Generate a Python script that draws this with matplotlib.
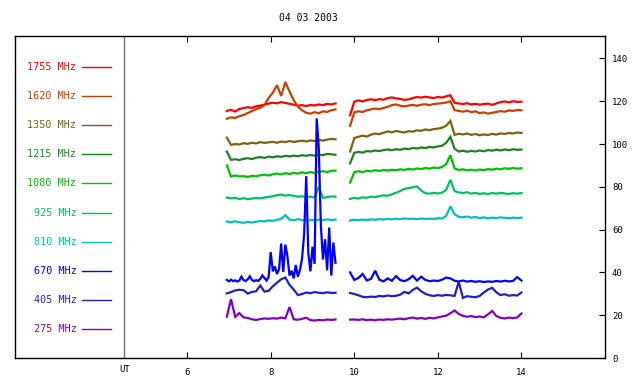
import numpy as np
import matplotlib
matplotlib.use("Agg")
import matplotlib.pyplot as plt

title = "04 03 2003"
freqs = ["1755 MHz", "1620 MHz", "1350 MHz", "1215 MHz", "1080 MHz",
         "925 MHz", "810 MHz", "670 MHz", "405 MHz", "275 MHz"]
colors = ["#ff0000", "#c84000", "#806010", "#208020", "#00c000",
          "#00c060", "#00c0c0", "#0000ff", "#2020c0", "#8000c0"]

# time grids (UT hours)
t1 = [6.95, 7.05, 7.15, 7.25, 7.35, 7.45, 7.55, 7.65, 7.75, 7.85, 7.95, 8.05, 8.15, 8.25,
      8.35, 8.45, 8.55, 8.65, 8.75, 8.85, 8.95, 9.05, 9.15, 9.25, 9.35, 9.45, 9.55]
t1f = [6.95, 7.00, 7.05, 7.10, 7.15, 7.20, 7.25, 7.30, 7.35, 7.40, 7.45, 7.50, 7.55, 7.60,
       7.65, 7.70, 7.75, 7.80, 7.85, 7.90, 7.95, 8.00, 8.05, 8.10, 8.15, 8.20, 8.25, 8.30,
       8.35, 8.40, 8.45, 8.50, 8.55, 8.60, 8.65, 8.70, 8.75, 8.80, 8.85, 8.90, 8.95, 9.00,
       9.05, 9.10, 9.15, 9.20, 9.25, 9.30, 9.35, 9.40, 9.45, 9.50, 9.55]
t2 = [9.9, 10.0, 10.1, 10.2, 10.3, 10.4, 10.5, 10.6, 10.7, 10.8, 10.9, 11.0, 11.1, 11.2,
      11.3, 11.4, 11.5, 11.6, 11.7, 11.8, 11.9, 12.0, 12.1, 12.2, 12.3, 12.4, 12.5, 12.6,
      12.7, 12.8, 12.9, 13.0, 13.1, 13.2, 13.3, 13.4, 13.5, 13.6, 13.7, 13.8, 13.9, 14.0]

f1755_a = [115.5, 116.0, 115.2, 116.4, 116.8, 117.2, 116.9, 117.6, 118.0, 118.4, 118.9, 119.3, 119.0, 119.6,
           119.2, 118.8, 118.4, 117.9, 118.2, 117.7, 118.3, 118.0, 118.5, 118.2, 118.8, 118.5, 119.0]
f1755_b = [113.5, 119.8, 120.4, 119.9, 120.6, 120.9, 120.5, 121.0, 120.7, 121.5, 121.8, 121.3, 121.1, 120.6,
           120.9, 121.5, 122.0, 121.7, 122.1, 121.8, 121.5, 122.0, 121.7, 122.3, 122.8, 119.3, 119.0, 118.7,
           119.1, 118.5, 118.8, 118.4, 118.7, 118.9, 118.3, 119.0, 119.6, 119.9, 119.5, 120.0, 119.7, 119.8]

f1620_a = [111.8, 112.5, 112.2, 113.0, 113.6, 114.5, 115.4, 116.3, 117.0, 118.2, 121.5, 124.0, 127.5, 122.5,
           129.0, 124.5, 120.5, 117.5, 115.8, 114.6, 114.2, 114.9, 114.4, 115.3, 115.0, 115.8, 116.2]
f1620_b = [108.5, 114.8, 115.3, 115.0, 115.8, 116.2, 116.6, 116.3, 116.9, 117.4, 118.2, 118.5, 117.9, 117.6,
           118.0, 118.3, 117.9, 118.4, 118.6, 118.2, 118.7, 118.9, 119.1, 119.4, 120.0, 115.8, 115.5, 115.1,
           115.6, 114.9, 115.3, 114.4, 114.8, 114.2, 114.6, 115.0, 115.4, 115.1, 115.7, 115.5, 115.9, 115.8]

f1350_a = [103.0, 99.6, 100.0, 99.8, 100.4, 100.1, 100.6, 100.3, 100.9, 100.5, 100.8, 101.0, 100.6, 101.2,
           100.9, 101.4, 101.0, 101.3, 101.6, 101.2, 101.7, 101.4, 101.9, 101.6, 102.1, 102.4, 102.2]
f1350_b = [96.5, 102.8, 103.4, 103.9, 103.5, 104.4, 104.9, 104.6, 105.3, 105.9, 105.5, 106.1, 105.7, 105.4,
           106.0, 105.8, 106.4, 106.2, 106.8, 106.5, 107.0, 107.2, 107.6, 108.6, 110.8, 104.3, 104.8, 104.5,
           104.9, 104.3, 104.7, 104.1, 104.5, 104.2, 104.8, 104.4, 105.0, 104.7, 105.2, 104.9, 105.4, 105.2]

f1215_a = [96.5, 92.6, 92.9, 92.5, 93.1, 93.4, 93.0, 93.6, 93.9, 93.5, 94.1, 93.8, 94.3, 94.0,
           94.5, 94.2, 94.6, 94.3, 94.8, 94.5, 94.9, 94.6, 95.1, 94.8, 95.4, 95.2, 95.0]
f1215_b = [91.0, 95.9, 96.3, 96.0, 96.7, 96.5, 97.0, 96.7, 97.2, 97.5, 97.1, 97.6, 97.3, 97.9,
           97.6, 98.2, 97.9, 98.4, 98.1, 98.7, 98.4, 98.9, 99.2, 100.6, 103.4, 97.8, 96.5, 96.9,
           96.4, 96.8, 96.5, 97.0, 96.6, 97.2, 96.9, 97.4, 97.0, 97.5, 97.1, 97.6, 97.3, 97.4]

f1080_a = [90.0, 84.8, 85.3, 84.9, 85.0, 84.6, 85.2, 84.9, 85.4, 85.7, 85.3, 85.9, 86.2, 85.8,
           86.4, 86.0, 86.5, 86.2, 86.8, 86.4, 86.9, 86.5, 87.0, 87.3, 86.9, 87.5, 87.6]
f1080_b = [82.0, 86.8, 87.3, 86.9, 87.5, 87.2, 87.8, 87.4, 87.9, 87.6, 88.0, 87.7, 88.2, 87.9,
           88.4, 88.1, 88.6, 88.3, 88.8, 88.5, 89.0, 88.7, 89.3, 90.6, 94.8, 88.6, 87.9, 88.2,
           87.7, 88.0, 87.6, 88.1, 87.8, 88.3, 88.0, 88.5, 88.2, 88.7, 88.4, 88.8, 88.5, 88.7]

f925_a = [75.0, 74.6, 74.9, 74.3, 74.7, 74.2, 74.5, 74.8, 74.6, 75.0, 75.3, 75.6, 76.1, 76.4,
          75.9, 76.2, 75.7, 75.4, 75.6, 75.1, 75.4, 75.0, 80.0, 74.8, 75.2, 75.5, 75.4]
f925_b = [74.4, 74.8, 74.5, 75.1, 74.9, 75.4, 75.2, 75.7, 76.0, 75.8, 76.5, 77.2, 78.1, 79.0,
          79.4, 79.8, 80.2, 78.3, 77.0, 76.8, 77.2, 76.9, 77.3, 78.6, 83.3, 78.0, 77.4, 77.1,
          77.5, 76.8, 77.2, 76.7, 77.0, 76.6, 77.1, 76.8, 77.2, 76.9, 76.7, 77.0, 76.8, 77.1]

f810_a = [63.8, 63.5, 63.9, 63.4, 63.2, 63.6, 63.3, 63.7, 64.0, 63.8, 64.3, 64.1, 64.6, 65.0,
          66.8, 64.7, 64.4, 64.9, 64.5, 64.2, 64.6, 64.3, 64.7, 64.4, 64.8, 64.5, 64.7]
f810_b = [64.3, 64.6, 64.4, 64.7, 64.5, 64.8, 64.6, 64.9, 64.7, 65.0, 64.8, 65.1, 64.9, 65.2,
          65.0, 65.1, 64.9, 65.2, 65.0, 65.1, 65.0, 65.3, 65.2, 66.4, 70.9, 67.2, 66.0, 65.8,
          66.1, 65.6, 65.9, 65.4, 65.7, 65.3, 65.6, 65.4, 65.7, 65.5, 65.3, 65.6, 65.4, 65.6]

f670_a = [36.5, 35.8, 36.6, 35.9, 36.3, 35.7, 36.2, 38.0, 36.4, 36.0, 36.8, 38.2, 36.5, 35.9,
          36.4, 36.0, 37.0, 38.6, 37.4, 36.2, 37.8, 49.5, 40.5, 42.8, 39.2, 41.5, 53.5, 40.2,
          53.0, 47.5, 38.5, 40.8, 37.2, 43.5, 38.0, 41.2, 46.5, 58.0, 85.0, 49.0, 40.5, 52.0,
          44.0, 112.0, 98.0, 62.0, 46.0, 55.5, 41.0, 61.0, 38.5, 54.0, 44.5]
f670_b = [40.0, 36.5, 37.4, 39.3, 36.2, 37.0, 40.8, 36.6, 35.8, 37.2, 36.1, 38.3, 36.4, 35.9,
          36.8, 38.4, 36.2, 38.0, 36.5, 35.9, 36.2, 36.0, 36.6, 37.6, 37.2, 36.1, 35.8, 36.2,
          35.7, 36.0, 35.6, 35.9, 35.5, 35.8, 35.6, 36.0, 35.7, 36.1, 35.8, 36.0, 37.8, 36.2]

f405_a = [30.2, 30.8, 31.6, 31.9, 31.7, 30.1, 30.9, 31.2, 33.9, 31.0, 31.4, 33.5, 35.2, 36.8,
          37.6, 34.2, 32.0, 29.4, 29.9, 30.6, 30.3, 30.8, 30.5, 30.3, 30.7, 30.4, 30.5]
f405_b = [30.4, 29.9, 29.3, 28.6, 28.4, 28.7, 28.5, 29.0, 28.8, 29.2, 28.9, 29.1, 29.6, 30.9,
          30.2, 31.8, 32.9, 31.2, 30.0, 29.3, 29.0, 29.4, 29.1, 29.5, 29.3, 29.0, 35.6, 28.1,
          28.9, 28.6, 28.4, 29.0, 30.6, 32.0, 32.8, 30.7, 29.4, 29.8, 29.1, 29.4, 29.2, 30.6]

f275_a = [19.3, 27.5, 19.2, 21.0, 19.0, 18.7, 18.1, 17.8, 18.2, 18.5, 18.3, 18.6, 18.4, 18.9,
          18.5, 23.8, 18.1, 17.9, 18.3, 18.8, 17.7, 17.5, 17.8, 17.6, 18.0, 17.8, 18.0]
f275_b = [17.9, 18.0, 17.8, 18.1, 17.7, 17.9, 17.6, 18.0, 17.8, 18.1, 17.9, 18.2, 18.4, 18.1,
          18.6, 18.9, 18.4, 18.7, 18.3, 18.8, 18.5, 19.0, 19.4, 19.8, 20.9, 22.2, 20.6, 19.7,
          19.3, 19.6, 19.1, 19.4, 19.0, 20.4, 22.0, 19.6, 18.8, 18.5, 18.9, 18.6, 19.0, 20.8]

segments = [
    (t1, f1755_a, t2, f1755_b), (t1, f1620_a, t2, f1620_b), (t1, f1350_a, t2, f1350_b),
    (t1, f1215_a, t2, f1215_b), (t1, f1080_a, t2, f1080_b), (t1, f925_a, t2, f925_b),
    (t1, f810_a, t2, f810_b), (t1f, f670_a, t2, f670_b), (t1, f405_a, t2, f405_b),
    (t1, f275_a, t2, f275_b),
]

xticks = [6, 8, 10, 12, 14]
yticks = [0, 20, 40, 60, 80, 100, 120, 140]

mono = "DejaVu Sans Mono"
W, H = 640, 384
fig = plt.figure(figsize=(6.4, 3.84), dpi=100)
ax = fig.add_axes([15 / W, (H - 358) / H, (605 - 15) / W, (358 - 36) / H])
ax.set_xlim(1.88, 16.0)
ax.set_ylim(0, 150.5)

for (ta, va, tb, vb), c in zip(segments, colors):
    ax.plot(ta, va, color=c, lw=1.6, solid_joinstyle="miter")
    ax.plot(tb, vb, color=c, lw=1.6, solid_joinstyle="miter")

# legend block at left
for i, (lab, c) in enumerate(zip(freqs, colors)):
    y = 136.0 - 13.6 * i
    ax.text(3.35, y, lab, color=c, ha="right", va="center", fontsize=7.3, family=mono)
    ax.plot([3.49, 4.18], [y, y], color=c, lw=1.0)

ax.axvline(4.5, color="#707070", lw=1.0)

for s in ax.spines.values():
    s.set_linewidth(1.0)
    s.set_color("black")

ax.set_xticks(xticks)
ax.set_xticklabels([str(v) for v in xticks], fontsize=6.5, family=mono)
ax.tick_params(axis="x", direction="in", length=4, width=0.8, top=True, bottom=True, pad=7)
ax.text(4.5, -3.5, "UT", ha="center", va="top", fontsize=6.5, family=mono)

ax.yaxis.tick_right()
ax.set_yticks(yticks)
ax.set_yticklabels([str(v) for v in yticks], fontsize=6.5, family=mono)
ax.tick_params(axis="y", direction="in", length=4, width=0.8, left=False, right=True, pad=5)

fig.text(308 / W, 1 - 18 / H, title, ha="center", va="center", fontsize=7.0, family=mono)

fig.savefig("out.png", dpi=100)
